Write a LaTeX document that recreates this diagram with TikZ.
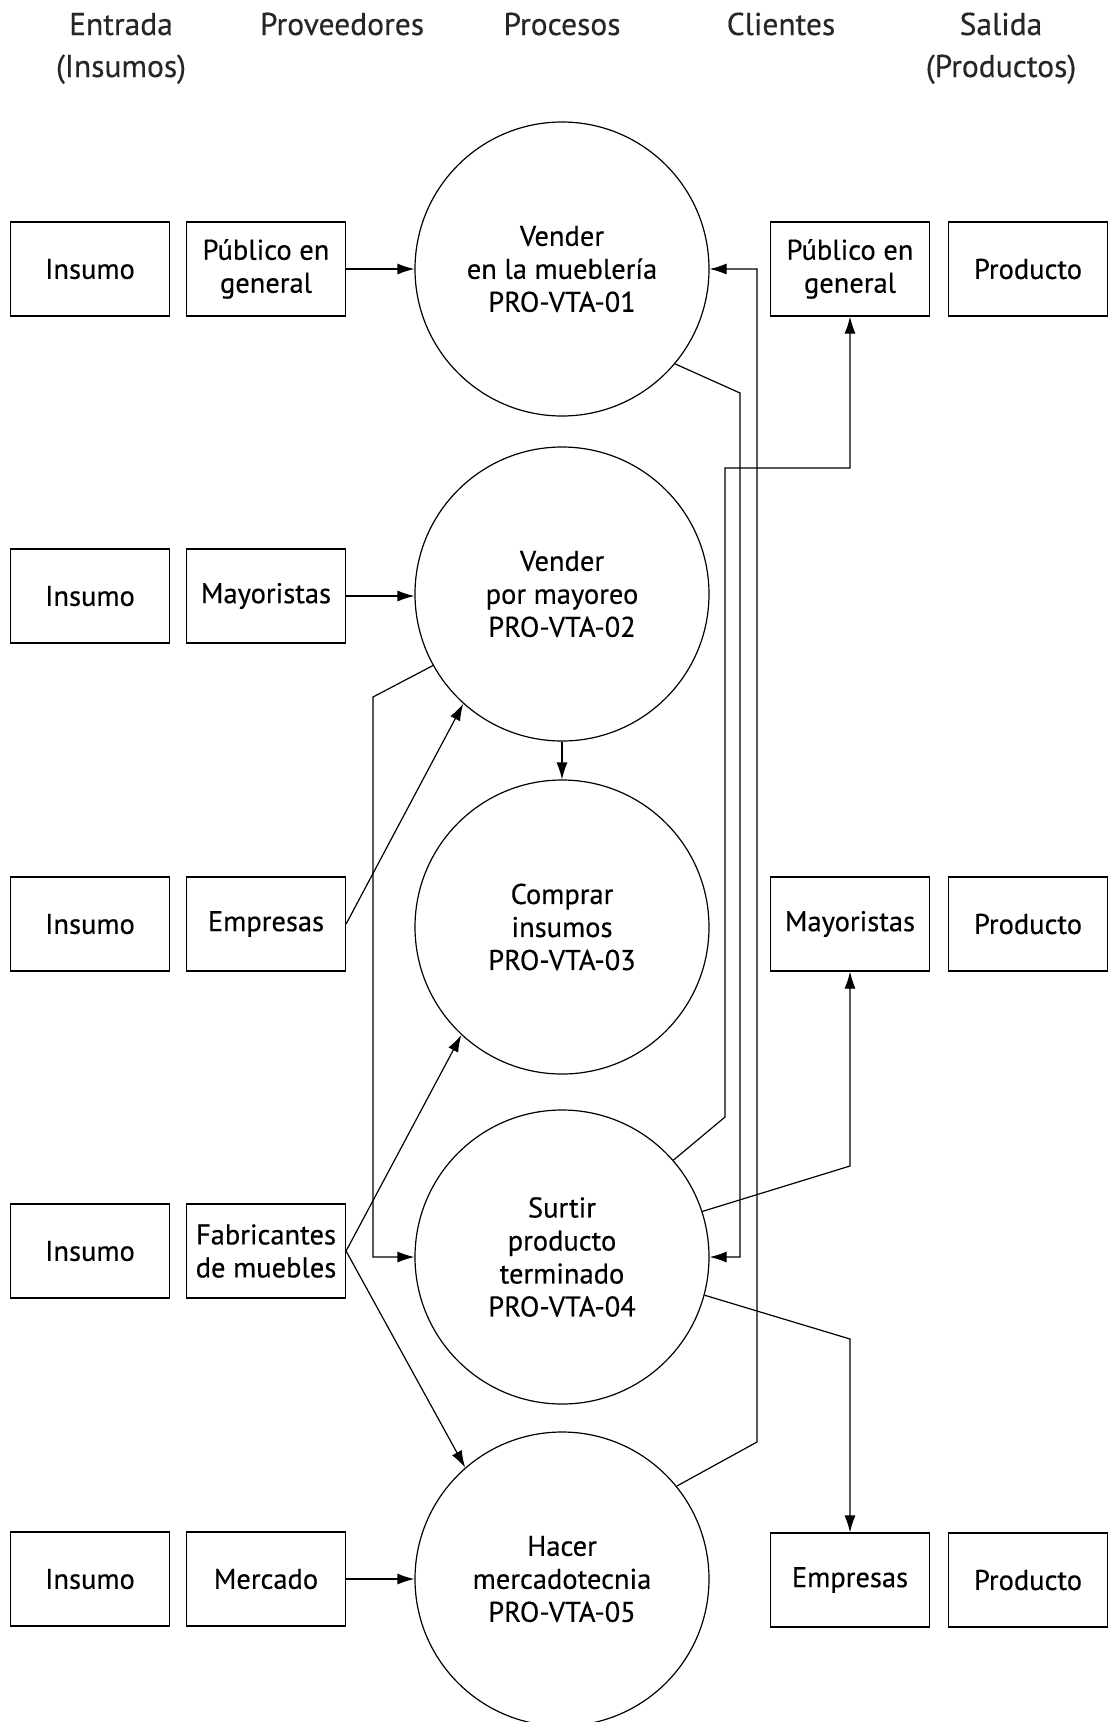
\documentclass[tikz,border=0pt]{standalone}
\usepackage{fontspec}
\setmainfont{PT Sans}[FakeBold=0.4]
\usetikzlibrary{arrows.meta}
\begin{document}
\begin{tikzpicture}[x=1pt,y=1pt,
  every node/.style={font=\fontsize{28.5}{33}\selectfont, align=center, inner sep=0pt},
  box/.style={draw, line width=1.2pt, minimum width=159pt, minimum height=94pt},
  proc/.style={draw, circle, line width=1.2pt, minimum size=294pt},
  head/.style={font=\fontsize{31.5}{42}\selectfont, text=black!85, anchor=base},
  link/.style={line width=1.2pt},
  arr/.style={link, -{Latex[length=17pt,width=11pt]}}]
\useasboundingbox (0,0) rectangle (1110,-1722);

% column headings (baselines aligned)
\node[head] (h1)  at (121,-35) {Entrada};
\node[head] (h1b) at (121,-77) {(Insumos)};
\node[head] (h2)  at (342,-35) {Proveedores};
\node[head] (h3)  at (562,-35) {Procesos};
\node[head] (h4)  at (781,-35) {Clientes};
\node[head] (h5)  at (1001,-35) {Salida};
\node[head] (h5b) at (1001,-77) {(Productos)};

% inputs and suppliers
\node[box] (in1) at (90,-269)  {Insumo};
\node[box] (in2) at (90,-596)  {Insumo};
\node[box] (in3) at (90,-924)  {Insumo};
\node[box] (in4) at (90,-1251) {Insumo};
\node[box] (in5) at (90,-1579) {Insumo};
\node[box] (pv1) at (266,-269)  {Público en\\general};
\node[box] (pv2) at (266,-596)  {Mayoristas};
\node[box] (pv3) at (266,-924)  {Empresas};
\node[box] (pv4) at (266,-1251) {Fabricantes\\de muebles};
\node[box] (pv5) at (266,-1579) {Mercado};

% processes
\node[proc] (c1) at (562,-269)  {Vender\\en la mueblería\\PRO-VTA-01};
\node[proc] (c2) at (562,-594)  {Vender\\por mayoreo\\PRO-VTA-02};
\node[proc] (c3) at (562,-927)  {Comprar\\insumos\\PRO-VTA-03};
\node[proc] (c4) at (562,-1257) {Surtir\\producto\\terminado\\PRO-VTA-04};
\node[proc] (c5) at (562,-1579) {Hacer\\mercadotecnia\\PRO-VTA-05};

% customers and outputs
\node[box] (cl1) at (850,-269)  {Público en\\general};
\node[box] (cl3) at (850,-924)  {Mayoristas};
\node[box] (cl5) at (850,-1580) {Empresas};
\node[box] (out1) at (1028,-269)  {Producto};
\node[box] (out3) at (1028,-924)  {Producto};
\node[box] (out5) at (1028,-1580) {Producto};

% bend points of the routed connectors
\coordinate (k2) at (373,-697);
\coordinate (k1) at (740,-393);
\coordinate (k5) at (757,-1442);
\coordinate (k4a) at (725,-1117);
\coordinate (k4b) at (725,-468);
\coordinate (k4c) at (850,-1166);
\coordinate (k4d) at (850,-1339);

% supplier inputs
\draw[arr] (pv1.east) -- (pv1.east -| c1.west);
\draw[arr] (pv2.east) -- (pv2.east -| c2.west);
\draw[arr] (pv5.east) -- (pv5.east -| c5.west);
\draw[arr] (pv3.east) -- (c2.228);
\draw[arr] (pv4.east) -- (c3.227);
\draw[arr] (pv4.east) -- (c5.131);

% links between processes
\draw[arr] (c2.south) -- (c3.north);
\draw[arr] (c2.209) -- (k2) |- (c4.west);
\draw[arr] (c1.-40) -- (k1) |- (c4.east);
\draw[arr] (c5.39) -- (k5) |- (c1.east);

% deliveries to customers
\draw[arr] (c4.41) -- (k4a) -- (k4b) -| (cl1.south);
\draw[arr] (c4.18) -- (k4c) -- (cl3.south);
\draw[arr] (c4.-15) -- (k4d) -- (cl5.north);
\end{tikzpicture}
\end{document}
